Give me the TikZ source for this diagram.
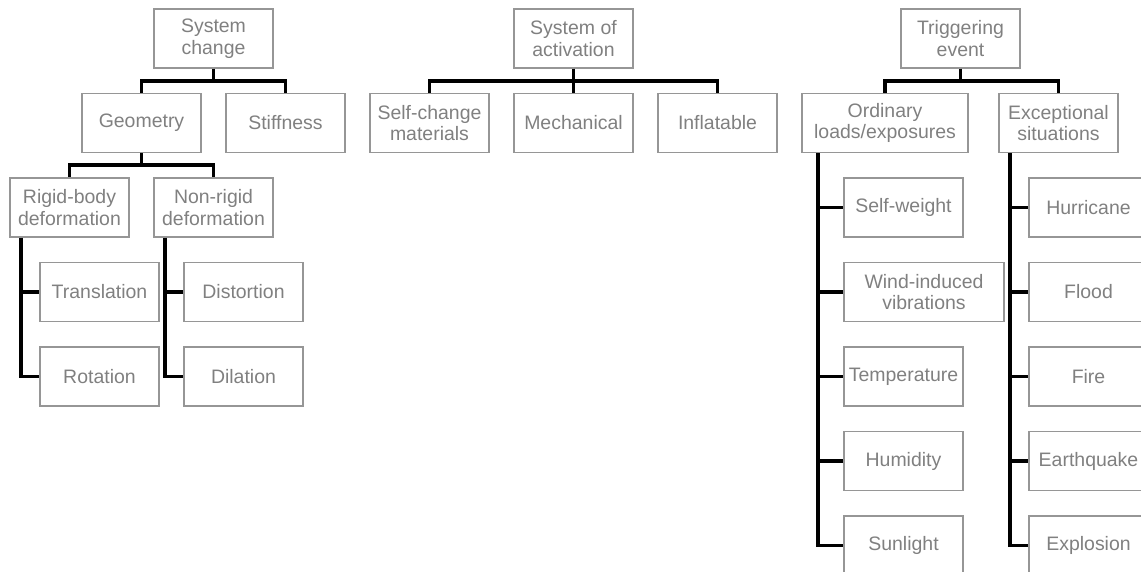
\documentclass[tikz,border=0pt]{standalone}
\usepackage{fontspec}
\setmainfont{Liberation Sans}
\definecolor{txtgray}{RGB}{128,128,128}
\definecolor{boxgray}{RGB}{150,150,150}
\begin{document}
\begin{tikzpicture}[x=0.75pt,y=-0.75pt,
  box/.style={draw=boxgray,line width=1.1pt,text=txtgray,align=center,inner sep=0pt,
    minimum width=89.25pt,minimum height=44.5pt,
    font=\fontsize{14.6}{16.3}\selectfont},
  wide/.style={minimum width=#1},
  conn/.style={line width=2.9pt,black,line join=miter}]
\path[use as bounding box] (0,0) rectangle (1141,571);
\clip (0,0) rectangle (1141,571);
% left tree
\node[box] (sc) at (213.5,38.5) {System\\change};
\node[box] (geo) at (141.5,123) {Geometry};
\node[box] (stiff) at (285.5,123) {Stiffness};
\node[box] (rigid) at (69.5,207.5) {Rigid-body\\deformation};
\node[box] (nonrigid) at (213.5,207.5) {Non-rigid\\deformation};
\node[box] (trans) at (99.5,292) {Translation};
\node[box] (rot) at (99.5,376.5) {Rotation};
\node[box] (dist) at (243.5,292) {Distortion};
\node[box] (dil) at (243.5,376.5) {Dilation};
% middle tree
\node[box] (sa) at (573.5,38.5) {System of\\activation};
\node[box] (self) at (429.5,123) {Self-change\\materials};
\node[box] (mech) at (573.5,123) {Mechanical};
\node[box] (infl) at (717.5,123) {Inflatable};
% right tree
\node[box] (te) at (960.5,38.5) {Triggering\\event};
\node[box,wide=124.5pt] (ord) at (885,123) {Ordinary\\loads/exposures};
\node[box] (exc) at (1058.5,123) {Exceptional\\situations};
\node[box] (sw) at (903.5,207.5) {Self-weight};
\node[box,wide=120pt] (wind) at (924,292) {Wind-induced\\vibrations};
\node[box] (temp) at (903.5,376.5) {Temperature};
\node[box] (hum) at (903.5,461) {Humidity};
\node[box] (sun) at (903.5,545.5) {Sunlight};
\node[box] (hur) at (1088.5,207.5) {Hurricane};
\node[box] (flood) at (1088.5,292) {Flood};
\node[box] (fire) at (1088.5,376.5) {Fire};
\node[box] (eq) at (1088.5,461) {Earthquake};
\node[box] (expl) at (1088.5,545.5) {Explosion};
% connectors
\draw[conn] (sc.south) -- ++(0,12) -| (geo.north);
\draw[conn] (sc.south) -- ++(0,12) -| (stiff.north);
\draw[conn] (geo.south) -- ++(0,12) -| (rigid.north);
\draw[conn] (geo.south) -- ++(0,12) -| (nonrigid.north);
\draw[conn] ([xshift=9pt]rigid.south west) |- (trans.west);
\draw[conn] ([xshift=9pt]rigid.south west) |- (rot.west);
\draw[conn] ([xshift=9pt]nonrigid.south west) |- (dist.west);
\draw[conn] ([xshift=9pt]nonrigid.south west) |- (dil.west);
\draw[conn] (sa.south) -- ++(0,12) -| (self.north);
\draw[conn] (sa.south) -- ++(0,12) -| (mech.north);
\draw[conn] (sa.south) -- ++(0,12) -| (infl.north);
\draw[conn] (te.south) -- ++(0,12) -| (ord.north);
\draw[conn] (te.south) -- ++(0,12) -| (exc.north);
\foreach \c in {sw,wind,temp,hum,sun}
  \draw[conn] ([xshift=12.75pt]ord.south west) |- (\c.west);
\foreach \c in {hur,flood,fire,eq,expl}
  \draw[conn] ([xshift=9pt]exc.south west) |- (\c.west);
\end{tikzpicture}
\end{document}
